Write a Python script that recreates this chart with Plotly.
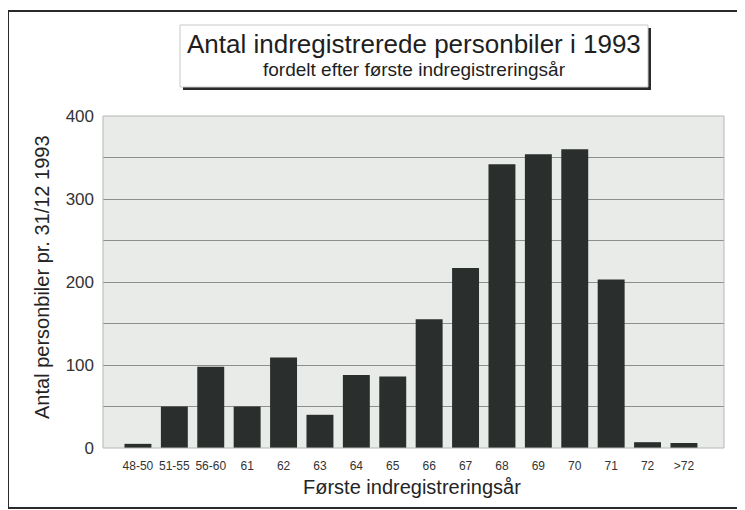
import plotly.graph_objects as go

categories = ["48-50", "51-55", "56-60", "61", "62", "63", "64", "65",
              "66", "67", "68", "69", "70", "71", "72", ">72"]
values = [5, 50, 98, 50, 109, 40, 88, 86, 155, 217, 342, 354, 360, 203, 7, 6]
y_ticks = [0, 100, 200, 300, 400]

title = "Antal indregistrerede personbiler i 1993"
subtitle = "fordelt efter første indregistreringsår"
x_title = "Første indregistreringsår"
y_title = "Antal personbiler pr. 31/12 1993"

# page has an 8px body margin; figure sized to fit the 745x510 window
OFF = 8
W, H = 737, 502
L, R, T, B = 95, 21, 108, 62
pw, ph = W - L - R, H - T - B

def px(x):  # page pixel -> paper x
    return (x - OFF - L) / pw

def py(y):  # page pixel -> paper y
    return (H - B - (y - OFF)) / ph

font = "Liberation Sans, Arial, sans-serif"
txt = "#242424"

fig = go.Figure(go.Bar(
    x=list(range(len(categories))), y=values,
    marker=dict(color="#2a2e2d", line=dict(width=0)),
    width=0.74,
))

fig.update_layout(
    width=W, height=H,
    margin=dict(l=L, r=R, t=T, b=B),
    paper_bgcolor="white",
    plot_bgcolor="#e8ebe7",
    showlegend=False,
    font=dict(family=font, color=txt),
    xaxis=dict(
        tickmode="array", tickvals=list(range(len(categories))), ticktext=categories,
        range=[-0.96, 16.1], showgrid=False, zeroline=False,
        tickfont=dict(size=12, color="#333"), ticks="", ticklabelstandoff=9,
        showline=False,
    ),
    yaxis=dict(
        range=[0, 400], tickmode="array", tickvals=y_ticks,
        tickfont=dict(size=17, color="#333"),
        showgrid=True, gridcolor="#8c8f8c", gridwidth=1,
        minor=dict(dtick=50, showgrid=True, gridcolor="#8c8f8c", gridwidth=1),
        zeroline=False, ticks="", ticklabelstandoff=8,
        showline=False,
    ),
    shapes=[
        dict(type="rect", xref="paper", yref="paper", x0=0, x1=1, y0=0, y1=1,
             line=dict(color="#b5b8b5", width=1), layer="above"),
        dict(type="rect", xref="paper", yref="paper",
             x0=px(8), x1=px(742), y0=py(508), y1=py(11),
             line=dict(color="#2a2a2a", width=2)),
        dict(type="rect", xref="paper", yref="paper",
             x0=px(183), x1=px(651), y0=py(90), y1=py(28),
             fillcolor="#2a2a2a", line=dict(width=0)),
        dict(type="rect", xref="paper", yref="paper",
             x0=px(180), x1=px(648), y0=py(87), y1=py(25),
             fillcolor="white", line=dict(color="#c8c8c8", width=1)),
    ],
    annotations=[
        dict(text=title, xref="paper", yref="paper", x=px(414), y=py(44),
             showarrow=False, font=dict(size=26, color="#1e1e1e"),
             xanchor="center", yanchor="middle"),
        dict(text=subtitle, xref="paper", yref="paper", x=px(414), y=py(69),
             showarrow=False, font=dict(size=19, color="#1e1e1e"),
             xanchor="center", yanchor="middle"),
        dict(text=x_title, xref="paper", yref="paper", x=px(412), y=py(487),
             showarrow=False, font=dict(size=20, color=txt),
             xanchor="center", yanchor="middle"),
        dict(text=y_title, xref="paper", yref="paper", x=px(42), y=py(277),
             showarrow=False, font=dict(size=20, color=txt), textangle=-90,
             xanchor="center", yanchor="middle"),
    ],
)

fig.write_html("out.html")
